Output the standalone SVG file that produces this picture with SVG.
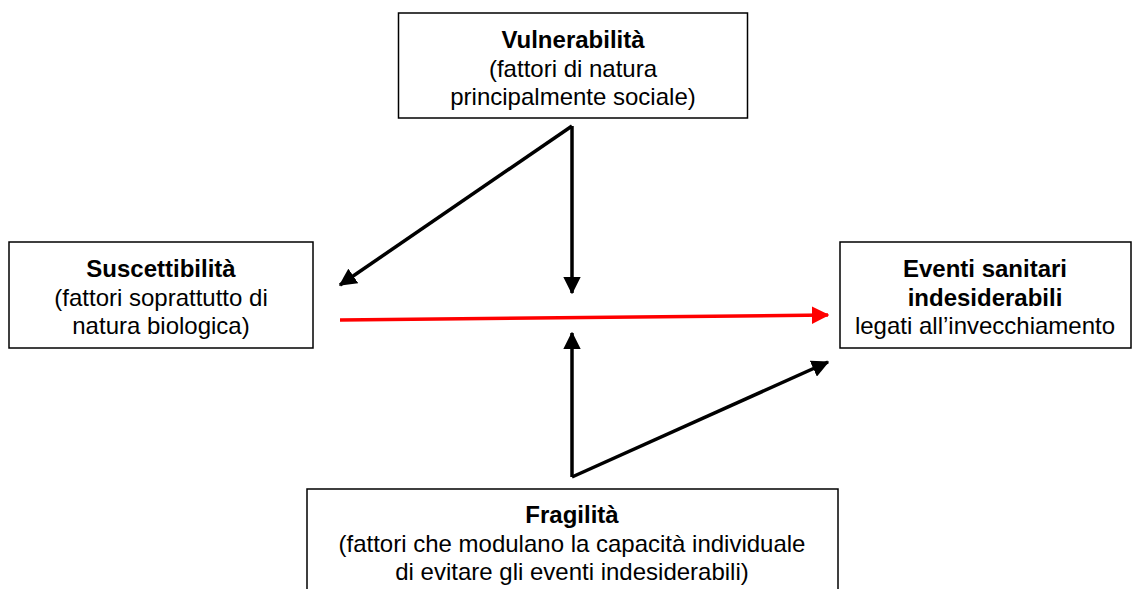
<svg xmlns="http://www.w3.org/2000/svg" width="1132" height="589" viewBox="0 0 1132 589">
<style>
.box{fill:#fff;stroke:#000;stroke-width:1.5}
text{font-family:"Liberation Sans",Arial,sans-serif;font-size:24px;fill:#000;text-anchor:middle}
.b{font-weight:bold}
.k{stroke:#000;stroke-width:3.5;fill:none}
.r{stroke:#f00;stroke-width:3.5;fill:none}
</style>
<defs>
<marker id="ak" markerWidth="5" markerHeight="5" refX="4.6" refY="2.5" orient="auto" markerUnits="strokeWidth"><path d="M0,0 L5,2.5 L0,5 Z" fill="#000"/></marker>
<marker id="ar" markerWidth="5" markerHeight="5" refX="4.6" refY="2.5" orient="auto" markerUnits="strokeWidth"><path d="M0,0 L5,2.5 L0,5 Z" fill="#f00"/></marker>
</defs>
<g id="vulnerabilita">
<rect class="box" x="398.5" y="13" width="349" height="105"/>
<text class="b" x="573" y="48">Vulnerabilità</text>
<text x="573" y="77">(fattori di natura</text>
<text x="573" y="105">principalmente sociale)</text>
</g>
<g id="suscettibilita">
<rect class="box" x="9" y="242" width="304" height="106"/>
<text class="b" x="161" y="277">Suscettibilità</text>
<text x="161" y="306">(fattori soprattutto di</text>
<text x="161" y="334">natura biologica)</text>
</g>
<g id="eventi">
<rect class="box" x="840" y="242" width="291" height="106"/>
<text class="b" x="985" y="277">Eventi sanitari</text>
<text class="b" x="985" y="306">indesiderabili</text>
<text x="985" y="334">legati all’invecchiamento</text>
</g>
<g id="fragilita">
<rect class="box" x="307" y="489" width="531" height="110"/>
<text class="b" x="572" y="523">Fragilità</text>
<text x="572" y="552">(fattori che modulano la capacità individuale</text>
<text x="572" y="580">di evitare gli eventi indesiderabili)</text>
</g>
<g id="connectors">
<path class="k" d="M572,126 L340,285" marker-end="url(#ak)"/>
<path class="k" d="M572,126 L572,293" marker-end="url(#ak)"/>
<path class="r" d="M340,320 L828,315" marker-end="url(#ar)"/>
<path class="k" d="M572,477 L572,333" marker-end="url(#ak)"/>
<path class="k" d="M572,477 L828,362" marker-end="url(#ak)"/>
</g>
</svg>
